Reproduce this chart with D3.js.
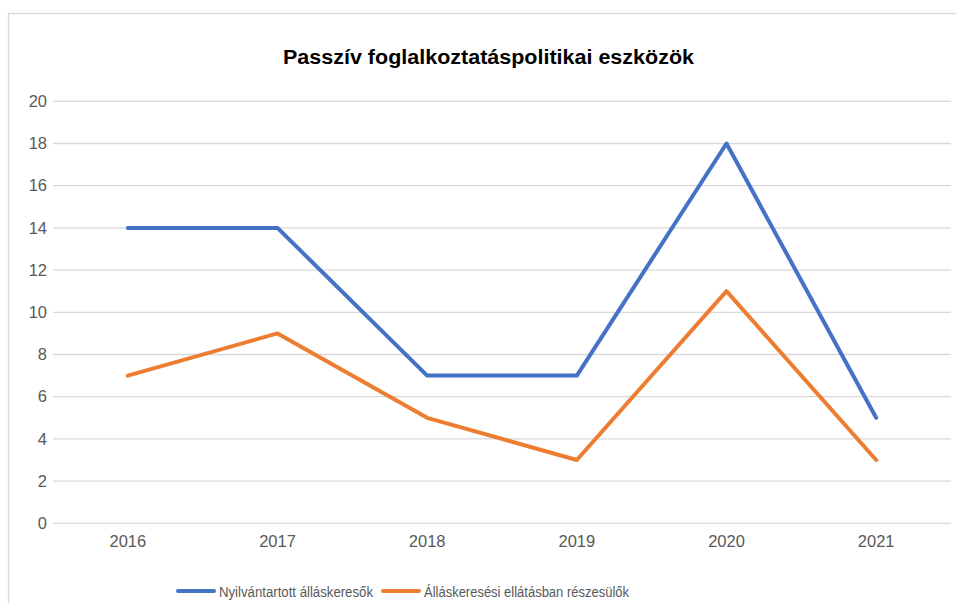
<!DOCTYPE html>
<html>
<head>
<meta charset="utf-8">
<script src="https://cdn.jsdelivr.net/npm/d3@7"></script>
<style>
  body { margin: 0; background: #fff; }
  text { font-family: "Liberation Sans", Arial, sans-serif; }
</style>
</head>
<body>
<script>
const years = ["2016", "2017", "2018", "2019", "2020", "2021"];
const nyilvantartott = [14, 14, 7, 7, 18, 5];
const ellatott = [7, 9, 5, 3, 11, 3];
const yTicks = [0, 2, 4, 6, 8, 10, 12, 14, 16, 18, 20];
const seriesNames = ["Nyilvántartott álláskeresők", "Álláskeresési ellátásban részesülők"];
const seriesColors = ["#4472C4", "#ED7D31"];

const W = 956, H = 603;
const svg = d3.select("body").append("svg").attr("width", W).attr("height", H);

// chart frame
svg.append("rect")
  .attr("x", 8.5).attr("y", 13.5)
  .attr("width", 960).attr("height", 600)
  .attr("fill", "none").attr("stroke", "#d9d9d9").attr("stroke-width", 1.3);

const x = d3.scaleBand().domain(years).range([53, 951]);
const y = d3.scaleLinear().domain([0, 20]).range([523.3, 101.3]);

// gridlines
svg.append("g")
  .selectAll("line")
  .data(yTicks)
  .enter()
  .append("line")
  .attr("x1", 53).attr("x2", 951)
  .attr("y1", d => y(d)).attr("y2", d => y(d))
  .attr("stroke", "#d9d9d9").attr("stroke-width", 1.3);

// y labels
svg.append("g")
  .selectAll("text")
  .data(yTicks)
  .enter()
  .append("text")
  .attr("x", 47).attr("y", d => y(d))
  .attr("dy", "0.35em")
  .attr("text-anchor", "end")
  .attr("font-size", 16.5)
  .attr("fill", "#595959")
  .text(d => d);

// x labels
svg.append("g")
  .selectAll("text")
  .data(years)
  .enter()
  .append("text")
  .attr("x", d => x(d) + x.bandwidth() / 2)
  .attr("y", 547)
  .attr("text-anchor", "middle")
  .attr("font-size", 16.5)
  .attr("fill", "#595959")
  .text(d => d);

// title
svg.append("text")
  .attr("x", 488.5).attr("y", 64)
  .attr("text-anchor", "middle")
  .attr("font-size", 20)
  .attr("font-weight", "bold")
  .attr("fill", "#000")
  .attr("textLength", 411)
  .attr("lengthAdjust", "spacingAndGlyphs")
  .text("Passzív foglalkoztatáspolitikai eszközök");

// lines
const line = d3.line()
  .x((d, i) => x(years[i]) + x.bandwidth() / 2)
  .y(d => y(d));

[nyilvantartott, ellatott].forEach((s, k) => {
  svg.append("path")
    .datum(s)
    .attr("d", line)
    .attr("fill", "none")
    .attr("stroke", seriesColors[k])
    .attr("stroke-width", 4)
    .attr("stroke-linejoin", "round")
    .attr("stroke-linecap", "round");
});

// legend
const legendX = [177, 382];
const legendTextLen = [154, 205];
seriesNames.forEach((name, k) => {
  const g = svg.append("g").attr("transform", `translate(${legendX[k]},591)`);
  g.append("line")
    .attr("x1", 1).attr("x2", 37)
    .attr("stroke", seriesColors[k])
    .attr("stroke-width", 4)
    .attr("stroke-linecap", "round");
  g.append("text")
    .attr("x", 42).attr("y", 6)
    .attr("font-size", 15.5)
    .attr("fill", "#595959")
    .attr("textLength", legendTextLen[k])
    .attr("lengthAdjust", "spacingAndGlyphs")
    .text(name);
});
</script>
</body>
</html>
